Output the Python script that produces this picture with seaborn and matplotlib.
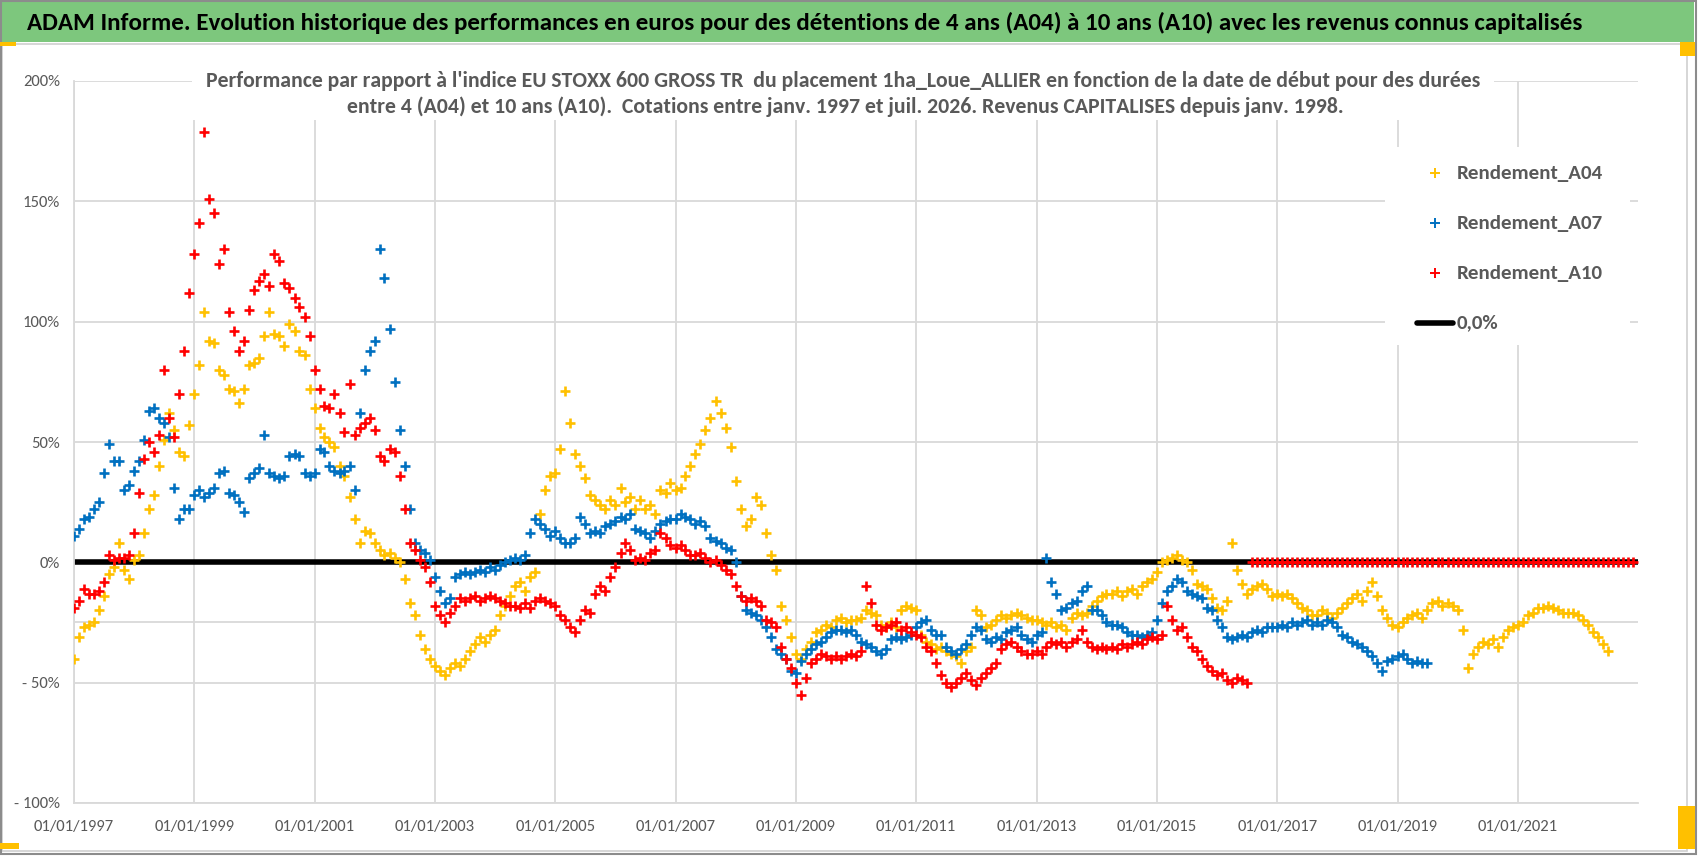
"""ADAM chart: relative performance vs EU STOXX 600 by start date (A04/A07/A10)."""
import matplotlib

matplotlib.use("Agg")

import matplotlib.pyplot as plt  # noqa: E402
from matplotlib import font_manager  # noqa: E402
from matplotlib.lines import Line2D  # noqa: E402
from matplotlib.patches import Rectangle  # noqa: E402
import pandas as pd  # noqa: E402
import seaborn as sns  # noqa: E402

TITLE = ("ADAM Informe. Evolution historique des performances en euros pour des "
         "détentions de 4 ans (A04) à 10 ans (A10) avec les revenus connus capitalisés")
SUBTITLE_1 = ("Performance par rapport à l'indice EU STOXX 600 GROSS TR  du placement "
              "1ha_Loue_ALLIER en fonction de la date de début pour des durées")
SUBTITLE_2 = ("entre 4 (A04) et 10 ans (A10).  Cotations entre janv. 1997 et juil. 2026. "
              "Revenus CAPITALISES depuis janv. 1998.")

SERIES_NAMES = ["Rendement_A04", "Rendement_A07", "Rendement_A10"]
ZERO_NAME = "0,0%"
FIRST_MONTH = "1997-01-01"

# monthly readings (%), starting Jan 1997
rendement_a04 = [
    -40, -31, -27, -26, -25, -20, -14, -5, -2, 8, -3, -7,          # 1997
    1, 3, 12, 22, 28, 40, 51, 62, 55, 46, 44, 57,                  # 1998
    70, 82, 104, 92, 91, 80, 78, 72, 71, 66, 72, 82,               # 1999
    83, 85, 94, 104, 95, 94, 90, 99, 96, 88, 86, 72,               # 2000
    64, 56, 52, 50, 48, 40, 36, 27, 18, 8, 13, 12,                 # 2001
    8, 5, 3, 4, 2, 0, -7, -17, -22, -30, -36, -40,                 # 2002
    -43, -45, -47, -44, -42, -43, -40, -37, -34, -31, -33, -30,    # 2003
    -28, -22, -18, -14, -10, -8, -12, -6, -4, 20, 30, 36,          # 2004
    37, 47, 71, 58, 45, 40, 35, 28, 26, 24, 22, 26,                # 2005
    24, 31, 25, 27, 22, 26, 22, 24, 20, 30, 29, 33,                # 2006
    30, 31, 36, 40, 45, 49, 55, 60, 67, 62, 56, 48,                # 2007
    34, 22, 15, 18, 27, 24, 12, 3, -3, -18, -24, -31,              # 2008
    -38, -40, -36, -33, -29, -28, -26, -27, -24, -23, -25, -24,    # 2009
    -24, -23, -20, -21, -22, -26, -27, -25, -27, -20, -18, -19,    # 2010
    -20, -30, -33, -34, -36, -35, -37, -38, -39, -42, -37, -35,    # 2011
    -20, -22, -27, -26, -24, -22, -23, -22, -21, -22, -23, -24,    # 2012
    -24, -25, -26, -25, -27, -26, -28, -23, -21, -22, -21, -18,    # 2013
    -16, -14, -13, -13, -12, -14, -12, -11, -13, -10, -8, -7,      # 2014
    -4, 0, 1, 2, 3, 1, 0, -3, -9, -10, -11, -15,                   # 2015
    -19, -20, -16, 8, -3, -9, -13, -11, -10, -9, -11, -14,         # 2016
    -13, -14, -13, -15, -17, -19, -20, -22, -22, -20, -21, -23,    # 2017
    -21, -19, -17, -15, -13, -16, -12, -8, -14, -20, -23, -26,     # 2018
    -27, -25, -23, -22, -21, -23, -20, -17, -16, -18, -17, -18,    # 2019
    -20, -28, -44, -38, -35, -33, -34, -32, -35, -31, -28, -27,    # 2020
    -26, -25, -22, -21, -19, -19, -18, -19, -20, -21, -21, -21,    # 2021
    -22, -24, -26, -29, -31, -34, -37,                             # 2022
]

rendement_a07 = [
    11, 14, 18, 19, 22, 25, 37, 49, 42, 42, 30, 32,                # 1997
    38, 42, 51, 63, 64, 60, 58, 52, 31, 18, 22, 22,                # 1998
    28, 30, 27, 29, 31, 37, 38, 29, 28, 25, 21, 35,                # 1999
    37, 39, 53, 37, 36, 35, 36, 44, 45, 44, 37, 36,                # 2000
    37, 47, 46, 40, 38, 37, 38, 40, 30, 62, 80, 88,                # 2001
    92, 130, 118, 97, 75, 55, 40, 22, 8, 5, 4, 1,                  # 2002
    -6, -12, -17, -15, -6, -5, -4, -5, -4, -3, -4, -2,             # 2003
    -3, -1, 0, 1, 2, 1, 3, 12, 18, 16, 14, 11,                     # 2004
    13, 10, 8, 8, 10, 19, 16, 12, 13, 12, 15, 16,                  # 2005
    17, 19, 18, 20, 14, 13, 12, 10, 13, 16, 17, 18,                # 2006
    18, 20, 19, 18, 16, 17, 15, 10, 9, 8, 6, 5,                    # 2007
    0, -14, -20, -21, -22, -24, -27, -31, -36, -38, -40, -45,      # 2008
    -46, -41, -38, -36, -34, -33, -31, -29, -28, -28, -29, -28,    # 2009
    -30, -33, -34, -35, -37, -38, -36, -32, -31, -32, -31, -30,    # 2010
    -27, -25, -24, -28, -30, -30, -35, -37, -38, -36, -34, -30,    # 2011
    -27, -28, -32, -33, -31, -32, -29, -28, -27, -30, -32, -33,    # 2012
    -30, -29, 2, -8, -13, -20, -19, -17, -16, -12, -10, -20,       # 2013
    -20, -22, -25, -26, -26, -27, -29, -30, -30, -31, -30, -29,    # 2014
    -24, -17, -12, -10, -7, -8, -12, -13, -14, -15, -19, -20,      # 2015
    -24, -27, -31, -32, -31, -30, -31, -29, -28, -29, -27, -27,    # 2016
    -27, -26, -27, -25, -26, -25, -24, -26, -25, -26, -24, -25,    # 2017
    -27, -30, -31, -33, -34, -35, -37, -39, -42, -45, -41, -40,    # 2018
    -39, -38, -40, -42, -41, -42, -42,                             # 2019
]

rendement_a10 = [
    -19, -16, -11, -13, -13, -12, -8, 3, 1, 2, 2, 3,               # 1997
    12, 29, 43, 50, 46, 53, 80, 60, 52, 70, 88, 112,               # 1998
    128, 141, 179, 151, 145, 124, 130, 104, 96, 88, 92, 105,       # 1999
    113, 117, 120, 115, 128, 125, 116, 114, 110, 106, 102, 94,     # 2000
    80, 72, 65, 64, 70, 62, 54, 74, 53, 56, 58, 60,                # 2001
    55, 44, 42, 47, 46, 36, 22, 8, 5, 1, -2, -8,                   # 2002
    -18, -22, -25, -21, -18, -15, -16, -15, -14, -16, -15, -14,    # 2003
    -15, -16, -17, -18, -18, -19, -17, -19, -16, -15, -16, -17,    # 2004
    -18, -22, -24, -27, -29, -24, -20, -21, -13, -10, -12, -6,     # 2005
    -2, 4, 8, 5, 1, 2, 1, 4, 5, 12, 10, 7,                         # 2006
    6, 7, 5, 3, 3, 4, 2, 0, 1, -1, -3, -5,                         # 2007
    -10, -14, -16, -15, -16, -18, -24, -25, -27, -35, -40, -44,    # 2008
    -50, -55, -48, -42, -40, -38, -39, -40, -39, -40, -39, -38,    # 2009
    -39, -37, -10, -17, -26, -28, -27, -26, -25, -28, -27, -29,    # 2010
    -30, -31, -35, -37, -42, -47, -50, -52, -50, -48, -46, -49,    # 2011
    -51, -48, -46, -44, -42, -36, -34, -33, -35, -37, -38, -38,    # 2012
    -37, -38, -35, -33, -34, -33, -35, -33, -32, -28, -33, -35,    # 2013
    -36, -35, -36, -35, -36, -34, -35, -34, -33, -34, -32, -31,    # 2014
    -32, -30, -18, -24, -28, -27, -31, -35, -37, -40, -43, -45,    # 2015
    -47, -46, -49, -50, -48, -49, -50,                             # 2016
]
# after Jul 2016 the 10-year window is not complete: the sheet shows 0 until Dec 2022
rendement_a10_vide = [0.0] * 77

ligne_zero = [0.0, 0.0]
ligne_zero_dates = ["1997-01-01", "2022-12-31"]

y_ticks = [-100, -50, 0, 50, 100, 150, 200]
y_tick_labels = ["- 100%", "- 50%", "0%", "50%", "100%", "150%", "200%"]
x_tick_labels = ["01/01/1997", "01/01/1999", "01/01/2001", "01/01/2003",
                 "01/01/2005", "01/01/2007", "01/01/2009", "01/01/2011",
                 "01/01/2013", "01/01/2015", "01/01/2017", "01/01/2019",
                 "01/01/2021"]

COLORS = ["#FFC000", "#0070C0", "#FF0000"]
GRID = "#d9d9d9"
GREY_TXT = "#595959"
W, H = 1698, 856  # figure size in pixels at dpi 100

sns.set_theme(style="white")
installed = {f.name for f in font_manager.fontManager.ttflist}
FONT = next((f for f in ["Carlito", "Liberation Sans Narrow", "Lato", "Roboto"]
             if f in installed), "DejaVu Sans")
plt.rcParams["font.family"] = [FONT, "DejaVu Sans"]


def monthly(values):
    return pd.DataFrame({
        "date": pd.date_range(FIRST_MONTH, periods=len(values), freq="MS"),
        "perf": values,
    })


def fx(px):
    return px / W


def fy(px):
    return 1 - px / H


def fit_width(txt, target_px):
    w = txt.get_window_extent(fig.canvas.get_renderer()).width
    txt.set_fontsize(txt.get_fontsize() * target_px / w)
    return txt.get_fontsize()


a04 = monthly(rendement_a04)
a07 = monthly(rendement_a07)
a10 = monthly(rendement_a10 + rendement_a10_vide)
zero = pd.DataFrame({"date": pd.to_datetime(ligne_zero_dates), "perf": ligne_zero})

fig = plt.figure(figsize=(W / 100, H / 100), dpi=100)
fig.patch.set_facecolor("white")
ax = fig.add_axes([fx(74), fy(803), fx(1638) - fx(74), fy(81) - fy(803)])

sns.lineplot(data=zero, x="date", y="perf", color="black", linewidth=4,
             ax=ax, zorder=2)
for df, col in zip([a04, a07, a10], COLORS):
    sns.scatterplot(data=df, x="date", y="perf", marker="+", s=55,
                    linewidth=1.9, color=col, ax=ax, zorder=3)

# tick font size: "01/01/1997" is about 80 px wide in the reference
probe = fig.text(0, 0, "01/01/1997", fontsize=12)
tick_size = fit_width(probe, 80)
probe.remove()

ax.set_xlim(pd.Timestamp("1997-01-01"), pd.Timestamp("2022-12-31"))
ax.set_ylim(-100, 200)
ax.set_yticks(y_ticks)
ax.set_yticklabels(y_tick_labels)
ax.set_xticks(pd.to_datetime(x_tick_labels, format="%d/%m/%Y"))
ax.set_xticklabels(x_tick_labels)
ax.set_xlabel("")
ax.set_ylabel("")
ax.grid(True, color=GRID, linewidth=1.3)
ax.axhline(-25, color=GRID, linewidth=1.3, zorder=0.5)
ax.set_axisbelow(True)
for side in ["top", "right"]:
    ax.spines[side].set_visible(False)
for side in ["left", "bottom"]:
    ax.spines[side].set_color(GRID)
    ax.spines[side].set_linewidth(1.3)
ax.tick_params(axis="both", length=0, labelsize=tick_size, labelcolor=GREY_TXT)
ax.tick_params(axis="x", pad=12)
ax.tick_params(axis="y", pad=10)

# frames: outer object border, inner chart border, title banner
fig.patches.append(Rectangle((fx(2), fy(851)), fx(1687) - fx(2), fy(44) - fy(851),
                             transform=fig.transFigure, fill=False,
                             edgecolor="#d0d0d0", linewidth=1.2, zorder=1))
fig.patches.append(Rectangle((fx(2), fy(42)), fx(1694) - fx(2), fy(2) - fy(42),
                             transform=fig.transFigure, facecolor="#7dc77d",
                             edgecolor="none", zorder=1))
title = fig.text(fx(27), fy(23), TITLE, ha="left", va="center", fontsize=20,
                 fontweight="bold", color="black")
fit_width(title, 1556)

# chart title sits in a white box over the top gridline
fig.patches.append(Rectangle((fx(192), fy(120)), fx(1494) - fx(192), fy(64) - fy(120),
                             transform=fig.transFigure, facecolor="white",
                             edgecolor="none", zorder=1))
sub1 = fig.text(fx(843), fy(81), SUBTITLE_1, ha="center", va="center",
                fontsize=14, fontweight="bold", color=GREY_TXT)
sub2 = fig.text(fx(845), fy(107), SUBTITLE_2, ha="center", va="center",
                fontsize=14, fontweight="bold", color=GREY_TXT)
fit_width(sub1, 1280)
sub2.set_fontsize(sub1.get_fontsize())

# legend, on a white panel over the gridlines
fig.patches.append(Rectangle((fx(1385), fy(345)), fx(1630) - fx(1385), fy(147) - fy(345),
                             transform=fig.transFigure, facecolor="white",
                             edgecolor="none", zorder=1))
for i, (name, col) in enumerate(zip(SERIES_NAMES, COLORS)):
    yy = fy(173 + 50 * i)
    fig.add_artist(Line2D([fx(1435)], [yy], marker="+", linestyle="", color=col,
                          markersize=7, markeredgewidth=1.4,
                          transform=fig.transFigure))
    t = fig.text(fx(1457), yy, name, ha="left", va="center", fontsize=16,
                 fontweight="bold", color=GREY_TXT)
    if i == 0:
        leg_size = fit_width(t, 146)
    else:
        t.set_fontsize(leg_size)
yy = fy(323)
fig.add_artist(Line2D([fx(1417), fx(1453)], [yy, yy], color="black", linewidth=4,
                      transform=fig.transFigure))
fig.text(fx(1457), yy, ZERO_NAME, ha="left", va="center", fontsize=leg_size,
         fontweight="bold", color=GREY_TXT)

# outer border and the yellow selection handles of the spreadsheet object
fig.patches.append(Rectangle((fx(1), fy(854)), fx(1696) - fx(1), fy(1) - fy(854),
                             transform=fig.transFigure, fill=False,
                             edgecolor="#8c8c8c", linewidth=1.5, zorder=5))
for (x0, y0, x1, y1) in [(0, 42, 16, 46), (1680, 42, 1695, 56),
                         (0, 843, 19, 849), (1678, 806, 1695, 849)]:
    fig.patches.append(Rectangle((fx(x0), fy(y1)), fx(x1) - fx(x0), fy(y0) - fy(y1),
                                 transform=fig.transFigure, facecolor="#FFC000",
                                 edgecolor="none", zorder=6))

fig.savefig("out.png", dpi=100, facecolor="white")
